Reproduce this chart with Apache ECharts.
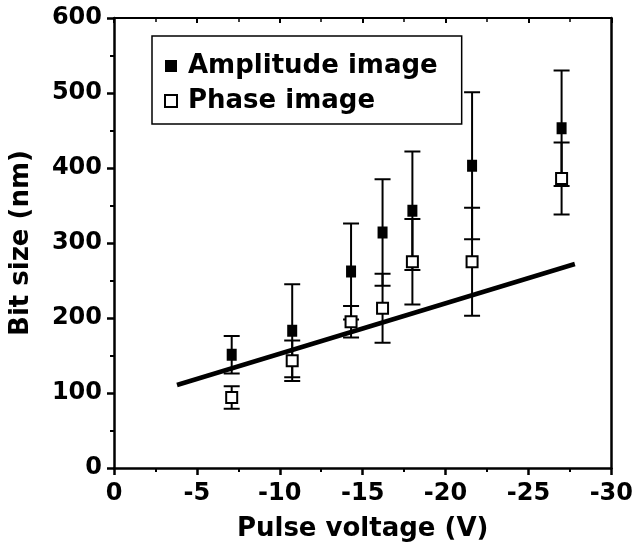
<!DOCTYPE html>
<html>
<head>
<meta charset="utf-8">
<script src="https://cdn.jsdelivr.net/npm/echarts@6/dist/echarts.min.js"></script>
<style>
    html, body { margin: 0; padding: 0; background: #fff; }
    #chart { width: 636px; height: 554px; }
</style>
</head>
<body>
<div id="chart"></div>
<script>
// values
let voltages = [-7.1, -10.75, -14.3, -16.2, -18.0, -21.6, -27.0];
let ampSize = [151, 183, 262, 314, 343, 403, 453];
let ampErr = [25, 62, 64, 71, 79, 98, 77];
let phaseSize = [94, 143, 195, 213, 275, 275, 386];
let phaseErr = [15, 27, 21, 46, 57, 72, 48];
let fitX = [-3.8, -27.8];
let fitY = [110.7, 272];

let font = '"DejaVu Sans", sans-serif';

function pairs(xs, ys) {
    return xs.map(function (x, i) { return [x, ys[i]]; });
}

function bars(xs, ys, errs) {
    return xs.map(function (x, i) { return [x, ys[i] - errs[i], ys[i] + errs[i]]; });
}

function renderErr(params, api) {
    let lo = api.coord([api.value(0), api.value(1)]);
    let hi = api.coord([api.value(0), api.value(2)]);
    let half = 8;
    let st = { stroke: '#000', lineWidth: 2 };
    return {
        type: 'group',
        children: [
            { type: 'line', shape: { x1: lo[0], y1: lo[1], x2: hi[0], y2: hi[1] }, style: st },
            { type: 'line', shape: { x1: lo[0] - half, y1: lo[1], x2: lo[0] + half, y2: lo[1] }, style: st },
            { type: 'line', shape: { x1: hi[0] - half, y1: hi[1], x2: hi[0] + half, y2: hi[1] }, style: st }
        ]
    };
}

let axisLbl = { color: '#000', fontFamily: font, fontWeight: 'bold', fontSize: 24 };

let option = {
    animation: false,
    backgroundColor: '#fff',
    grid: { left: 113, right: 20, top: 18, bottom: 86 },
    legend: {
        data: ['Amplitude image', 'Phase image'],
        orient: 'vertical',
        left: 152,
        top: 36,
        padding: [17, 24, 10, 12],
        itemGap: 9,
        itemWidth: 12,
        itemHeight: 12,
        borderColor: '#000',
        borderWidth: 1.5,
        borderRadius: 0,
        textStyle: { color: '#000', fontFamily: font, fontWeight: 'bold', fontSize: 26, padding: [0, 0, 0, 6] }
    },
    xAxis: [
        {
            type: 'value',
            min: -30,
            max: 0,
            interval: 5,
            inverse: true,
            name: 'Pulse voltage (V)',
            nameLocation: 'middle',
            nameGap: 48,
            nameTextStyle: { color: '#000', fontFamily: font, fontWeight: 'bold', fontSize: 26 },
            axisLine: { onZero: false, lineStyle: { color: '#000', width: 2.5 } },
            axisTick: { length: 7, lineStyle: { width: 2.5 } },
            minorTick: { show: true, splitNumber: 2, length: 4, lineStyle: { color: '#000', width: 2 } },
            axisLabel: Object.assign({ margin: 14 }, axisLbl),
            splitLine: { show: false }
        },
        {
            type: 'value',
            position: 'top',
            min: -30,
            max: 0,
            interval: 5,
            inverse: true,
            axisLine: { onZero: false, lineStyle: { color: '#000', width: 2 } },
            axisTick: { inside: true, length: 5, lineStyle: { width: 2 } },
            minorTick: { show: true, splitNumber: 2, length: 4, lineStyle: { color: '#000', width: 1.5 } },
            axisLabel: { show: false },
            splitLine: { show: false }
        }
    ],
    yAxis: [
        {
            type: 'value',
            min: 0,
            max: 600,
            interval: 100,
            name: 'Bit size (nm)',
            nameLocation: 'middle',
            nameGap: 80,
            nameTextStyle: { color: '#000', fontFamily: font, fontWeight: 'bold', fontSize: 26 },
            axisLine: { show: true, onZero: false, lineStyle: { color: '#000', width: 2.5 } },
            axisTick: { show: true, length: 7, lineStyle: { width: 2.5 } },
            minorTick: { show: true, splitNumber: 2, length: 4, lineStyle: { color: '#000', width: 2 } },
            axisLabel: Object.assign({ margin: 12 }, axisLbl),
            splitLine: { show: false }
        },
        {
            type: 'value',
            position: 'right',
            min: 0,
            max: 600,
            interval: 100,
            axisLine: { show: true, onZero: false, lineStyle: { color: '#000', width: 2.5 } },
            axisTick: { show: false },
            axisLabel: { show: false },
            splitLine: { show: false }
        }
    ],
    series: [
        {
            name: 'fit',
            type: 'line',
            data: pairs(fitX, fitY),
            symbol: 'none',
            lineStyle: { color: '#000', width: 4.5 },
            z: 2
        },
        {
            name: 'ampErr',
            type: 'custom',
            renderItem: renderErr,
            data: bars(voltages, ampSize, ampErr),
            encode: { x: 0, y: [1, 2] },
            z: 3
        },
        {
            name: 'phaseErr',
            type: 'custom',
            renderItem: renderErr,
            data: bars(voltages, phaseSize, phaseErr),
            encode: { x: 0, y: [1, 2] },
            z: 3
        },
        {
            name: 'Amplitude image',
            type: 'scatter',
            data: pairs(voltages, ampSize),
            symbol: 'rect',
            symbolSize: [10, 12],
            itemStyle: { color: '#000', opacity: 1 },
            z: 4
        },
        {
            name: 'Phase image',
            type: 'scatter',
            data: pairs(voltages, phaseSize),
            symbol: 'rect',
            symbolSize: 11,
            itemStyle: { color: '#fff', borderColor: '#000', borderWidth: 2, opacity: 1 },
            z: 5
        }
    ]
};

let chart = echarts.init(document.getElementById('chart'));
chart.setOption(option);
</script>
</body>
</html>
